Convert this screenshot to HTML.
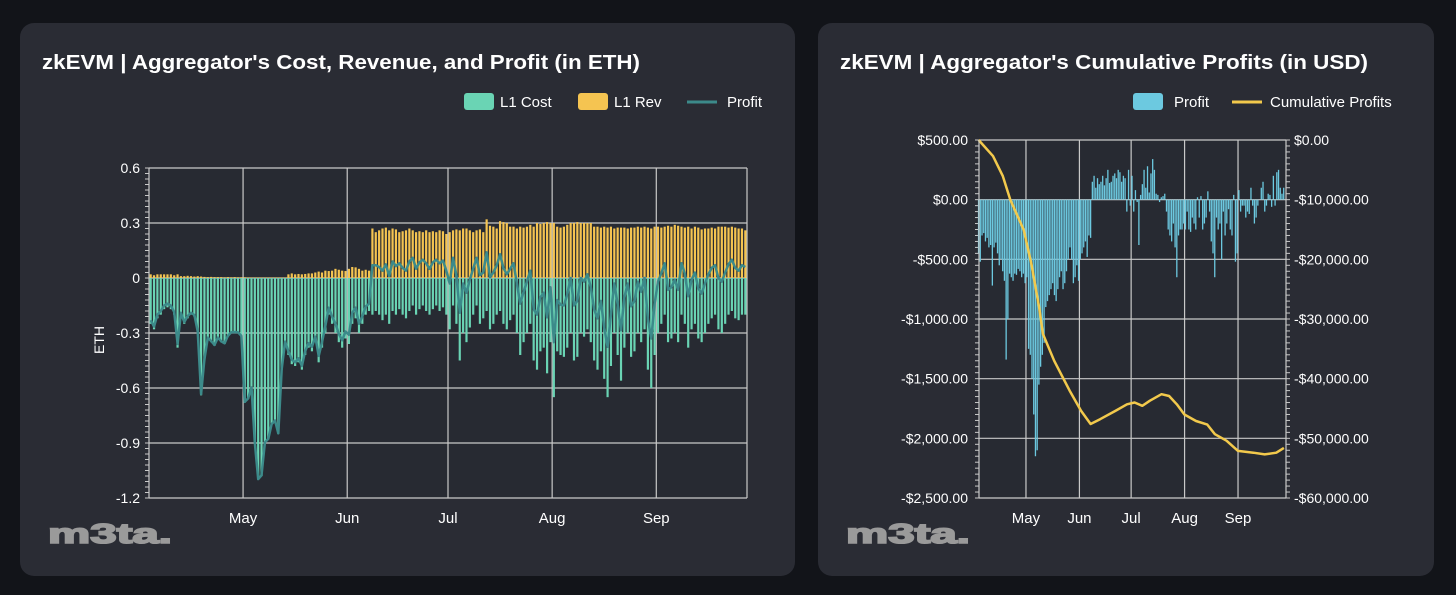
<!DOCTYPE html>
<html><head><meta charset="utf-8"><style>
html,body{margin:0;padding:0;background:#121419;}
svg{display:block;font-family:"Liberation Sans",sans-serif;}
</style></head><body>
<svg id="root" width="1456" height="595" viewBox="0 0 1456 595">
  <rect x="0" y="0" width="1456" height="595" fill="#121419"/>
  <g>
    <rect x="20" y="23" width="775" height="553" rx="14" fill="#2a2c34"/>
    <text x="42" y="69" font-size="20" font-weight="bold" fill="#fff" textLength="598" lengthAdjust="spacingAndGlyphs">zkEVM | Aggregator's Cost, Revenue, and Profit (in ETH)</text>
    <g>
      <rect x="464" y="93" width="30" height="17" rx="3" fill="#6ad4b4"/>
      <text x="500" y="107" font-size="15" fill="#fff">L1 Cost</text>
      <rect x="578" y="93" width="30" height="17" rx="3" fill="#f5c451"/>
      <text x="614" y="107" font-size="15" fill="#fff">L1 Rev</text>
      <line x1="687" y1="102" x2="717" y2="102" stroke="#3c8a8a" stroke-width="3"/>
      <text x="727" y="107" font-size="15" fill="#fff">Profit</text>
    </g>
    <g id="leftChart"></g>
    <text x="48" y="543" font-size="28" font-weight="bold" fill="#9a9a9a" stroke="#9a9a9a" stroke-width="1.6" textLength="124" lengthAdjust="spacingAndGlyphs">m3ta.</text>
  </g>
  <g>
    <rect x="818" y="23" width="616" height="553" rx="14" fill="#2a2c34"/>
    <text x="840" y="69" font-size="20" font-weight="bold" fill="#fff" textLength="528" lengthAdjust="spacingAndGlyphs">zkEVM | Aggregator's Cumulative Profits (in USD)</text>
    <g>
      <rect x="1133" y="93" width="30" height="17" rx="3" fill="#6cc9e0"/>
      <text x="1174" y="107" font-size="15" fill="#fff">Profit</text>
      <line x1="1232" y1="102" x2="1262" y2="102" stroke="#f2c94c" stroke-width="3"/>
      <text x="1270" y="107" font-size="15" fill="#fff">Cumulative Profits</text>
    </g>
    <g id="rightChart"></g>
    <text x="846" y="543" font-size="28" font-weight="bold" fill="#9a9a9a" stroke="#9a9a9a" stroke-width="1.6" textLength="124" lengthAdjust="spacingAndGlyphs">m3ta.</text>
  </g>
</svg>
<script>
// ---- data (days since Apr 3) ----
const monthLabels = ["May","Jun","Jul","Aug","Sep"];
const monthDays = [28,59,89,120,151];
const ethTicks = [0.6,0.3,0,-0.3,-0.6,-0.9,-1.2];
const l1Cost = [
-0.25,-0.28,-0.22,-0.2,-0.17,-0.16,-0.17,-0.2,
-0.38,-0.2,-0.25,-0.22,-0.2,-0.21,-0.3,-0.64,
-0.45,-0.33,-0.35,-0.37,-0.33,-0.35,-0.36,-0.32,
-0.3,-0.3,-0.3,-0.32,-0.68,-0.66,-0.6,-0.9,
-1.1,-1.08,-0.9,-0.88,-0.8,-0.78,-0.85,-0.5,
-0.35,-0.42,-0.47,-0.48,-0.46,-0.5,-0.42,-0.38,
-0.4,-0.35,-0.46,-0.38,-0.3,-0.2,-0.25,-0.3,
-0.35,-0.38,-0.33,-0.36,-0.25,-0.22,-0.3,-0.25,-0.2,-0.18,
-0.2,
-0.18,-0.2,-0.23,-0.2,-0.25,-0.18,-0.2,-0.17,-0.2,-0.22,-0.18,-0.15,-0.2,-0.17,-0.15,-0.18,-0.2,-0.17,-0.15,-0.18,-0.16,-0.2,
-0.28,-0.15,-0.25,-0.45,-0.3,-0.35,-0.27,-0.2,-0.15,-0.25,-0.22,-0.18,-0.28,-0.25,-0.2,-0.18,-0.25,-0.28,-0.23,-0.2,-0.3,-0.42,-0.35,-0.3,-0.25,-0.45,-0.5,-0.4,-0.38,-0.52,-0.35,
-0.65,-0.4,-0.42,-0.43,-0.38,-0.3,-0.45,-0.43,-0.3,-0.32,-0.28,-0.35,-0.45,-0.5,-0.4,-0.55,-0.65,-0.48,-0.3,-0.42,-0.56,-0.38,-0.3,-0.43,-0.4,-0.3,-0.35,-0.28,-0.5,-0.6,-0.42,
-0.3,-0.25,-0.2,-0.35,-0.33,-0.3,-0.35,-0.2,-0.25,-0.38,-0.28,-0.25,-0.33,-0.35,-0.3,-0.25,-0.22,-0.2,-0.28,-0.3,-0.25,-0.2,-0.18,-0.22,-0.23,-0.2,-0.2];
const l1Rev = [
0.02,0.015,0.02,0.02,0.02,0.02,0.02,0.015,0.02,0.01,0.01,
0.012,0.01,0.008,0.01,0.008,0.006,0.005,0.006,0.005,0.005,
0.005,0.004,0.005,0.004,0.005,0.004,0.004,0.004,
0.003,0.003,0.003,0.003,0.003,0.003,0.003,0.003,0.003,0.003,0.003,0.003,
0.02,0.025,0.02,0.022,0.02,0.022,0.025,0.025,0.03,0.035,0.03,0.04,0.038,0.04,
0.05,0.045,0.04,0.038,0.05,0.06,0.058,0.05,0.04,0.045,0.04,
0.27,0.25,0.26,0.27,0.275,0.26,0.27,0.265,0.25,0.255,0.26,0.27,0.26,0.25,0.255,0.25,0.26,0.25,0.255,0.25,0.26,0.255,0.24,
0.25,0.26,0.265,0.26,0.27,0.27,0.26,0.25,0.26,0.265,0.25,0.32,0.285,0.28,0.27,0.31,0.305,0.3,0.28,0.28,0.27,0.28,0.275,0.28,0.29,0.28,0.3,0.295,0.3,0.305,0.3,
0.3,0.28,0.275,0.28,0.29,0.3,0.3,0.305,0.3,0.3,0.3,0.3,0.28,0.28,0.275,0.28,0.275,0.28,0.27,0.275,0.275,0.275,0.27,0.275,0.275,0.28,0.275,0.28,0.275,0.27,0.28,
0.28,0.275,0.28,0.285,0.28,0.29,0.285,0.28,0.275,0.28,0.27,0.28,0.275,0.265,0.27,0.27,0.275,0.27,0.28,0.28,0.28,0.275,0.28,0.275,0.27,0.27,0.26];
const usdTicks = [500,0,-500,-1000,-1500,-2000,-2500];
const usdTickLabels = ["$500.00","$0.00","-$500.00","-$1,000.00","-$1,500.00","-$2,000.00","-$2,500.00"];
const cumTicks = [0,-10000,-20000,-30000,-40000,-50000,-60000];
const cumTickLabels = ["$0.00","-$10,000.00","-$20,000.00","-$30,000.00","-$40,000.00","-$50,000.00","-$60,000.00"];
const profitUsd = [
-450,-520,-300,-280,-350,-320,-400,-380,
-720,-400,-360,-450,-550,-500,-600,-680,
-1340,-1000,-620,-650,-680,-620,-630,-580,-600,-650,-620,-700,-650,
-1250,-1300,-1500,-1800,-2150,-2100,-1550,-1400,-1300,-1200,-900,
-850,-800,-750,-700,-800,-850,-750,-650,-600,-750,-700,-600,-500,
-400,-500,-700,-650,-550,-680,-500,-450,-400,-350,-480,-300,-320,
150,200,100,180,130,150,200,120,180,250,140,150,200,220,180,250,230,150,200,180,
-100,250,-50,200,-100,80,-20,-380,40,130,250,100,280,60,220,340,250,50,40,-20,20,30,
50,-100,-250,-300,-350,-200,-400,-650,-300,-250,-250,-200,-250,-100,
-250,-270,-150,-200,-250,20,-150,30,-250,-200,-150,70,-100,-350,-450,-650,-150,-250,-200,-500,-100,-300,-200,-80,-250,-300,40,-520,-450,
80,-100,-50,-50,-150,-100,-120,100,-50,-200,-150,-50,0,100,150,-100,-50,50,40,-60,200,-50,230,250,100,50,100];
const cumDays = [0.5,8.9,14.5,18.9,26.7,31.1,35.6,37.8,44.4,53.3,60,65.5,71,79.9,86.6,91,95.5,99.9,106.6,111,115.5,119.9,126.6,133.2,137.6,144.3,151,159.9,166.5,173.2,177.6];
const cumValues = [0,-2700,-6000,-10000,-15060,-20700,-28000,-32500,-37000,-42000,-45400,-47600,-46800,-45400,-44300,-44000,-44550,-43700,-42600,-42900,-44300,-46000,-47100,-47700,-49300,-50400,-52100,-52400,-52700,-52400,-51600];

const NS = "http://www.w3.org/2000/svg";
function mk(parent, tag, attrs){ const e=document.createElementNS(NS,tag); for(const k in attrs) e.setAttribute(k,attrs[k]); parent.appendChild(e); return e; }
const NDAYS = 178;

// ---- left chart ----
(function(){
  const g = document.getElementById('leftChart');
  const L=149,R=747,T=168,B=498;
  const x = d => L + d*(R-L)/NDAYS;
  const y = v => T + (0.6 - v)/(1.8)*(B-T);
  mk(g,'rect',{x:L,y:T,width:R-L,height:B-T,fill:'#272a32'});
  ethTicks.forEach((t,i)=>{
    const ln = mk(g,'line',{x1:L,x2:R,y1:y(t),y2:y(t),stroke:'#c9c9c9','stroke-width':1.2});
    
    
    const tx = mk(g,'text',{x:140,y:y(t)+5,'text-anchor':'end','font-size':14,fill:'#fff'});
    tx.textContent = String(t);
    
    
  });
  for(let v=0.6; v>=-1.2001; v-=0.03){ mk(g,'line',{x1:L-4,x2:L,y1:y(v),y2:y(v),stroke:'#c9c9c9','stroke-width':1}); }
  monthDays.forEach((d,i)=>{
    const ln = mk(g,'line',{x1:x(d),x2:x(d),y1:T,y2:B,stroke:'#c9c9c9','stroke-width':1.2});
    
    
    const tx = mk(g,'text',{x:x(d),y:523,'text-anchor':'middle','font-size':15,fill:'#fff'});
    tx.textContent = monthLabels[i];
    
    
  });
  mk(g,'line',{x1:R,x2:R,y1:T,y2:B,stroke:'#c9c9c9','stroke-width':1.2});
  const yl = mk(g,'text',{x:0,y:0,'text-anchor':'middle','font-size':14,fill:'#fff',transform:'translate(104,340) rotate(-90)'});
  yl.textContent='ETH';
  
  
  const bw = (R-L)/NDAYS*0.65;
  for(let d=0; d<NDAYS; d++){
    const cx = x(d+0.5);
    const c = mk(g,'rect',{x:cx-bw/2,y:y(0),width:bw,height:y(l1Cost[d])-y(0),fill:'#6ad4b4'});
    
    
    const r = mk(g,'rect',{x:cx-bw/2,y:y(l1Rev[d]),width:bw,height:y(0)-y(l1Rev[d]),fill:'#f5c451'});
    
    
  }
  let p='';
  for(let d=0; d<NDAYS; d++){ const v=l1Cost[d]+l1Rev[d]; p += (d?'L':'M')+x(d+0.5).toFixed(1)+','+y(v).toFixed(1); }
  const pl = mk(g,'path',{d:p,fill:'none',stroke:'#3c8a8a','stroke-width':2.5,'stroke-linejoin':'round'});
  
  
  mk(g,'line',{x1:L,x2:L,y1:T,y2:B,stroke:'#c9c9c9','stroke-width':1.2});
})();

// ---- right chart ----
(function(){
  const g = document.getElementById('rightChart');
  const L=979,R=1286,T=140,B=498;
  const x = d => 977.7 + d*1.724;
  const y = v => T + (500 - v)/3000*(B-T);
  const y2 = v => T + (0 - v)/60000*(B-T);
  mk(g,'rect',{x:L,y:T,width:R-L,height:B-T,fill:'#272a32'});
  usdTicks.forEach((t,i)=>{
    const ln = mk(g,'line',{x1:L,x2:R,y1:y(t),y2:y(t),stroke:'#c9c9c9','stroke-width':1.2});
    
    
    const tx = mk(g,'text',{x:968,y:y(t)+5,'text-anchor':'end','font-size':14,fill:'#fff'});
    tx.textContent = usdTickLabels[i];
    
    
  });
  cumTicks.forEach((t,i)=>{
    const tx = mk(g,'text',{x:1294,y:y2(t)+5,'text-anchor':'start','font-size':14,fill:'#fff'});
    tx.textContent = cumTickLabels[i];
    
    
  });
  for(let v=500; v>=-2500.01; v-=50){ mk(g,'line',{x1:L-4,x2:L,y1:y(v),y2:y(v),stroke:'#c9c9c9','stroke-width':1}); mk(g,'line',{x1:R,x2:R+4,y1:y(v),y2:y(v),stroke:'#c9c9c9','stroke-width':1}); }
  monthDays.forEach((d,i)=>{
    const ln = mk(g,'line',{x1:x(d),x2:x(d),y1:T,y2:B,stroke:'#c9c9c9','stroke-width':1.2});
    
    
    const tx = mk(g,'text',{x:x(d),y:523,'text-anchor':'middle','font-size':15,fill:'#fff'});
    tx.textContent = monthLabels[i];
    
    
  });
  const bw = 1.724*0.75;
  for(let d=0; d<NDAYS; d++){
    const cx = x(d+0.5), v = profitUsd[d];
    const b = mk(g,'rect',{x:cx-bw/2,y:Math.min(y(v),y(0)),width:bw,height:Math.abs(y(v)-y(0)),fill:'#6cc9e0'});
    
    
  }
  let p='';
  cumDays.forEach((d,i)=>{ p += (i?'L':'M')+x(d).toFixed(1)+','+y2(cumValues[i]).toFixed(1); });
  const pl = mk(g,'path',{d:p,fill:'none',stroke:'#f2c94c','stroke-width':2.5,'stroke-linejoin':'round'});
  
  
  mk(g,'line',{x1:L,x2:L,y1:T,y2:B,stroke:'#c9c9c9','stroke-width':1.2});
  mk(g,'line',{x1:R,x2:R,y1:T,y2:B,stroke:'#c9c9c9','stroke-width':1.2});
})();
</script>
</body></html>
